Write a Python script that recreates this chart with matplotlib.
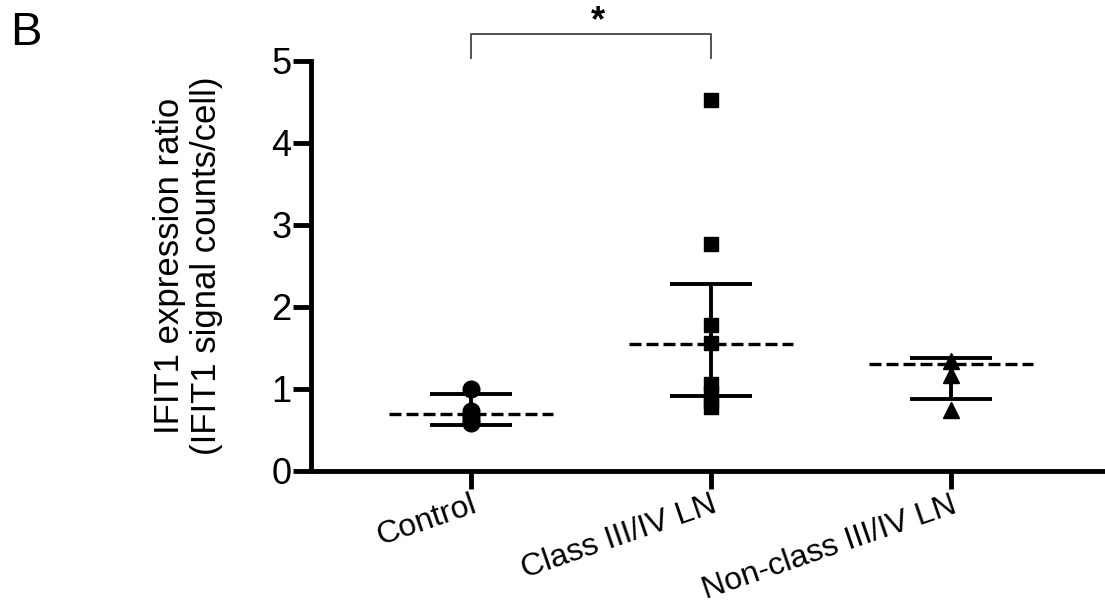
import matplotlib
matplotlib.use('Agg')
import matplotlib.pyplot as plt

plt.rcParams['font.family'] = ['Liberation Sans', 'DejaVu Sans']

# data
categories = ['Control', 'Class III/IV LN', 'Non-class III/IV LN']
control = [0.99, 0.72, 0.66, 0.62, 0.58]
class_ln = [4.52, 2.76, 1.78, 1.55, 1.05, 0.95, 0.85, 0.77]
nonclass_ln = [1.33, 1.16, 0.74]
centers = [0.69, 1.54, 1.30]
err_low = [0.55, 0.91, 0.87]
err_high = [0.93, 2.27, 1.37]
yticks = [0, 1, 2, 3, 4, 5]

fig = plt.figure(figsize=(11.05, 6.06), dpi=100)
ax = fig.add_axes([311 / 1105, 1 - 470.5 / 606, (1105 - 311) / 1105, 410 / 606])

groups = [control, class_ln, nonclass_ln]
markers = [('o', 12), ('s', 10.5), ('^', 11.5)]
for i, vals in enumerate(groups):
    m, ms = markers[i]
    ax.plot([i] * len(vals), vals, linestyle='none', marker=m, markersize=ms,
            color='black', zorder=3)
    # mean line (dashed)
    ax.hlines(centers[i], i - 0.34, i + 0.34, colors='black', linewidth=2.4,
              linestyles=(0, (3.6, 1.5)), zorder=4)
    # error bar
    ax.vlines(i, err_low[i], err_high[i], colors='black', linewidth=2.8, zorder=2)
    ax.hlines([err_low[i], err_high[i]], i - 0.17, i + 0.17, colors='black',
              linewidth=2.8, zorder=2)

ax.set_xlim(-0.667, 2.642)
ax.set_ylim(0, 5)
ax.set_yticks(yticks)
ax.set_yticklabels([str(t) for t in yticks], fontsize=26)
ax.set_xticks(range(len(categories)))
ax.set_xticklabels(categories, fontsize=23, rotation=19, ha='right',
                   rotation_mode='anchor')
ax.tick_params(axis='both', length=13, width=3.5, color='black')
ax.tick_params(axis='y', pad=1)
ax.tick_params(axis='x', pad=1)

for s in ['top', 'right']:
    ax.spines[s].set_visible(False)
for s in ['left', 'bottom']:
    ax.spines[s].set_linewidth(3.5)

ax.set_ylabel('IFIT1 expression ratio\n(IFIT1 signal counts/cell)', fontsize=25,
              linespacing=1.15, labelpad=35)

# significance bracket
ax.plot([0, 0, 1, 1], [5.03, 5.32, 5.32, 5.03], color='#444444', linewidth=1.3,
        clip_on=False)
ax.text(0.53, 5.36, '*', ha='center', va='baseline', fontsize=26,
        fontweight='bold')

fig.text(10 / 1105, 1 - 33 / 606, 'B', fontsize=34, va='center', ha='left')

fig.savefig('out.png', dpi=100)
